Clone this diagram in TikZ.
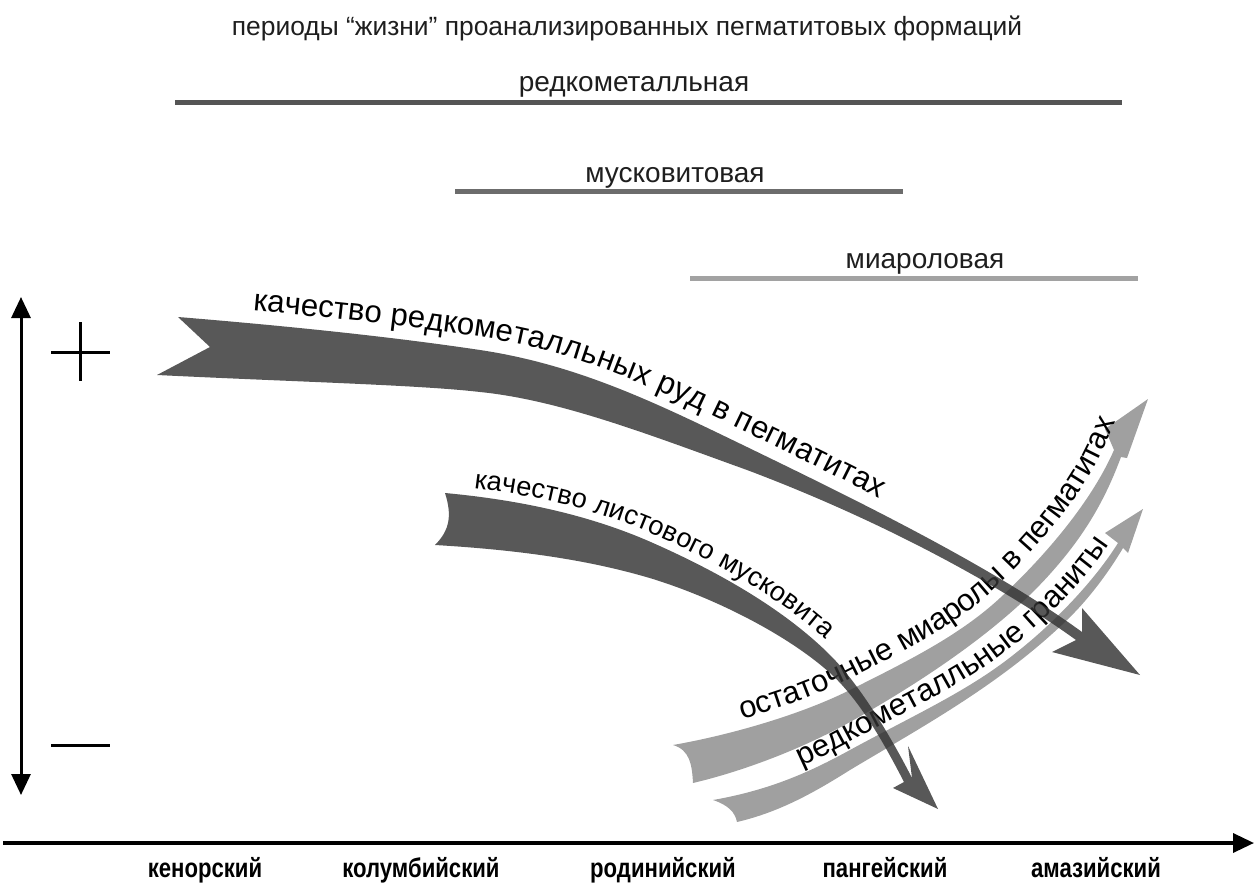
\documentclass[tikz,border=0pt]{standalone}
\usepackage{fontspec}
\setmainfont{Liberation Sans}
\newfontfamily\narrowfont[FakeStretch=0.82]{Liberation Sans}
\usepackage{xcolor}
\usepackage{tikz}
\usetikzlibrary{arrows.meta, decorations.text}
\definecolor{ribbonlight}{RGB}{160,160,160}
\definecolor{barrare}{RGB}{85,85,85}
\definecolor{barmusc}{RGB}{108,108,108}
\definecolor{barmiar}{RGB}{162,162,162}
\definecolor{inktext}{RGB}{30,30,30}
\newcommand\titlesize{\fontsize{13.2}{16}\selectfont}
\newcommand\bandsize{\fontsize{14}{17}\selectfont}
\newcommand\erasize{\narrowfont\bfseries\fontsize{13.5}{16}\selectfont}
\newcommand\curvebig{\fontsize{15.6}{19}\selectfont}
\newcommand\curvemid{\fontsize{15.5}{18}\selectfont}
\newcommand\curvesmall{\fontsize{13.6}{16}\selectfont}
\tikzset{
  periodlabel/.style={
    font=\bandsize, text=inktext, inner sep=0pt, anchor=base
  },
  periodbar/.style={line width=2.5pt},
  axisline/.style={
    line width=1.5pt, black
  },
  axistip/.tip={Triangle[length=10.5pt, width=9.5pt]},
  eralabel/.style={
    font=\erasize, text=black, inner sep=0pt, anchor=base
  },
  signline/.style={line width=1.5pt, black},
  darkribbon/.style={fill=black!80, fill opacity=0.82},
  lightribbon/.style={fill=ribbonlight},
}

\begin{document}
\begin{tikzpicture}[x=0.5pt, y=-0.5pt]
  \useasboundingbox (0,0) rectangle (1255,884);

  % Title
  \node[periodlabel, font=\titlesize] (title) at (627,35)
    {периоды “жизни” проанализированных пегматитовых формаций};

  % Periods of the formations
  \node[periodlabel] (rarelab) at (634,91) {редкометалльная};
  \coordinate (rare-s) at (175,102);
  \coordinate (rare-e) at (1122,102);
  \draw[periodbar, barrare] (rare-s) -- (rare-e);

  \node[periodlabel] (musclab) at (675,182) {мусковитовая};
  \coordinate (musc-s) at (455,191);
  \coordinate (musc-e) at (903,191);
  \draw[periodbar, barmusc] (musc-s) -- (musc-e);

  \node[periodlabel] (miarlab) at (925,268) {миароловая};
  \coordinate (miar-s) at (690,278);
  \coordinate (miar-e) at (1138,278);
  \draw[periodbar, barmiar] (miar-s) -- (miar-e);

  % Quality axis with + and -
  \coordinate (vtop) at (21,297);
  \coordinate (vbot) at (21,795);
  \draw[axisline, {axistip}-{axistip}] (vtop) -- (vbot);
  \draw[signline] (51,352) -- (110,352) (80,322) -- (80,381);
  \draw[signline] (51,745) -- (110,745);

  % Time axis
  \coordinate (hstart) at (3,843);
  \coordinate (hend) at (1254,843);
  \draw[axisline, line width=1.75pt, -{axistip}] (hstart) -- (hend);
  \node[eralabel] (ken) at (205,877) {кенорский};
  \node[eralabel] (col) at (421,877) {колумбийский};
  \node[eralabel] (rod) at (663,877) {родинийский};
  \node[eralabel] (pan) at (885,877) {пангейский};
  \node[eralabel] (ama) at (1096,877) {амазийский};

  % Light ribbon: residual miaroles
  \fill[lightribbon] (673,745) .. controls (690,750) and (692,765) .. (693,783)
    .. controls (740,772) and (800,750) .. (850,722)
    .. controls (920,683) and (1000,630) .. (1050,574)
    .. controls (1085,535) and (1105,500) .. (1121,457)
    -- (1127,458) -- (1148,399) -- (1105,429) -- (1114,450)
    .. controls (1090,505) and (1040,561) .. (1000,598)
    .. controls (960,635) and (910,660) .. (850,690)
    .. controls (800,715) and (730,735) .. (673,745) -- cycle;
  \path[decorate, decoration={text along path,
      text={|\curvemid|остаточные миаролы в пегматитах},
      text align={left indent=37pt}, raise=5pt}]
    (673,745) .. controls (730,735) and (800,715) .. (850,690)
    .. controls (910,660) and (960,635) .. (1000,598)
    .. controls (1040,561) and (1090,505) .. (1114,450) -- (1135,402);

  % Light ribbon: rare-metal granites
  \fill[lightribbon] (713,800) .. controls (728,805) and (735,812) .. (737,822)
    .. controls (780,812) and (815,792) .. (850,770)
    .. controls (920,728) and (1000,685) .. (1067,620)
    .. controls (1090,598) and (1110,570) .. (1123,548)
    -- (1128,553) -- (1143,509) -- (1105,533) -- (1118,543)
    .. controls (1095,580) and (1055,622) .. (1017,652)
    .. controls (970,690) and (920,712) .. (850,750)
    .. controls (810,772) and (770,790) .. (713,800) -- cycle;
  \path[decorate, decoration={text along path,
      text={|\curvemid|редкометалльные граниты},
      text align={left indent=48pt}, raise=3.5pt}]
    (713,800) .. controls (770,790) and (810,772) .. (850,750)
    .. controls (920,712) and (970,690) .. (1017,652)
    .. controls (1055,622) and (1095,580) .. (1118,543) -- (1140,508);

  % Dark ribbon: quality of rare-metal ores
  \fill[darkribbon] (178,317) .. controls (300,327) and (400,338) .. (480,350)
    .. controls (580,365) and (660,405) .. (747,447)
    .. controls (850,497) and (990,565) .. (1082,632)
    -- (1082,608) -- (1140,675) -- (1052,652) -- (1076,640)
    .. controls (1000,585) and (880,520) .. (747,470)
    .. controls (650,435) and (560,400) .. (480,392)
    .. controls (420,385) and (300,382) .. (157,375)
    -- (210,347) -- cycle;
  \path[decorate, decoration={text along path,
      text={|\curvebig|качество редкометалльных руд в пегматитах},
      text align={left indent=37pt}, raise=6.5pt}]
    (178,317) .. controls (300,327) and (400,338) .. (480,350)
    .. controls (580,365) and (660,405) .. (747,447)
    .. controls (850,497) and (990,565) .. (1082,632);

  % Dark ribbon: quality of sheet muscovite
  \fill[darkribbon] (435,545) .. controls (450,530) and (452,515) .. (445,493)
    .. controls (520,500) and (590,515) .. (653,543)
    .. controls (730,577) and (790,615) .. (830,655)
    .. controls (860,685) and (890,735) .. (912,778)
    -- (908,746) -- (938,809) -- (893,788) -- (904,782)
    .. controls (885,745) and (860,700) .. (830,673)
    .. controls (790,637) and (720,600) .. (653,579)
    .. controls (590,560) and (520,550) .. (435,545) -- cycle;
  \path[decorate, decoration={text along path,
      text={|\curvesmall|качество листового мусковита},
      text align={left indent=14pt}, raise=4pt}]
    (445,493) .. controls (520,500) and (590,515) .. (653,543)
    .. controls (730,577) and (790,615) .. (830,655)
    .. controls (860,685) and (885,725) .. (900,760);
\end{tikzpicture}
\end{document}
